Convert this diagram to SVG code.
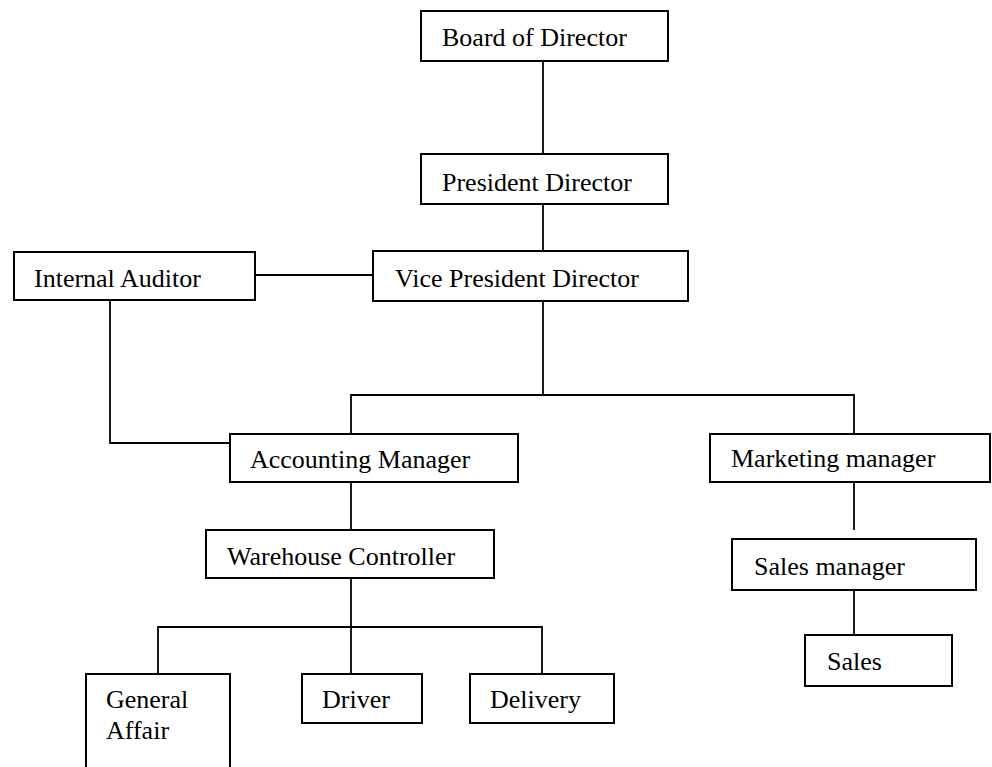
<svg xmlns="http://www.w3.org/2000/svg" width="992" height="767" viewBox="0 0 992 767">
<style>
.box{fill:#fff;stroke:#000;stroke-width:2}
.lbl{font-family:"Liberation Serif","Times New Roman",serif;font-size:26px;fill:#000}
.con{fill:none;stroke:#000;stroke-width:1.8}
</style>
<rect width="992" height="767" fill="#fff"/>
<g id="connectors">
<path class="con" d="M543 61V154"/>
<path class="con" d="M543 204V251"/>
<path class="con" d="M255 275H373"/>
<path class="con" d="M543 301V395"/>
<path class="con" d="M351 434V395H854V434"/>
<path class="con" d="M110 300V443H230"/>
<path class="con" d="M854 482V530"/>
<path class="con" d="M854 590V635"/>
<path class="con" d="M351 482V530"/>
<path class="con" d="M351 578V674"/>
<path class="con" d="M158 674V627H542V674"/>
</g>
<g id="board"><rect class="box" x="421" y="11" width="247" height="50"/><text class="lbl" x="442" y="46">Board of Director</text></g>
<g id="president"><rect class="box" x="421" y="154" width="247" height="50"/><text class="lbl" x="442" y="191">President Director</text></g>
<g id="vice"><rect class="box" x="373" y="251" width="315" height="50"/><text class="lbl" x="395" y="287">Vice President Director</text></g>
<g id="auditor"><rect class="box" x="14" y="252" width="241" height="48"/><text class="lbl" x="34" y="287">Internal Auditor</text></g>
<g id="accounting"><rect class="box" x="230" y="434" width="288" height="48"/><text class="lbl" x="250" y="468">Accounting Manager</text></g>
<g id="marketing"><rect class="box" x="710" y="434" width="280" height="48"/><text class="lbl" x="731" y="467">Marketing manager</text></g>
<g id="warehouse"><rect class="box" x="206" y="530" width="288" height="48"/><text class="lbl" x="227" y="565">Warehouse Controller</text></g>
<g id="salesmanager"><rect class="box" x="732" y="539" width="244" height="51"/><text class="lbl" x="754" y="575">Sales manager</text></g>
<g id="sales"><rect class="box" x="805" y="635" width="147" height="51"/><text class="lbl" x="827" y="670">Sales</text></g>
<g id="general"><rect class="box" x="86" y="674" width="144" height="110"/><text class="lbl" x="106" y="708">General</text><text class="lbl" x="106" y="739">Affair</text></g>
<g id="driver"><rect class="box" x="302" y="674" width="120" height="49"/><text class="lbl" x="322" y="708">Driver</text></g>
<g id="delivery"><rect class="box" x="470" y="674" width="144" height="49"/><text class="lbl" x="490" y="708">Delivery</text></g>
</svg>
